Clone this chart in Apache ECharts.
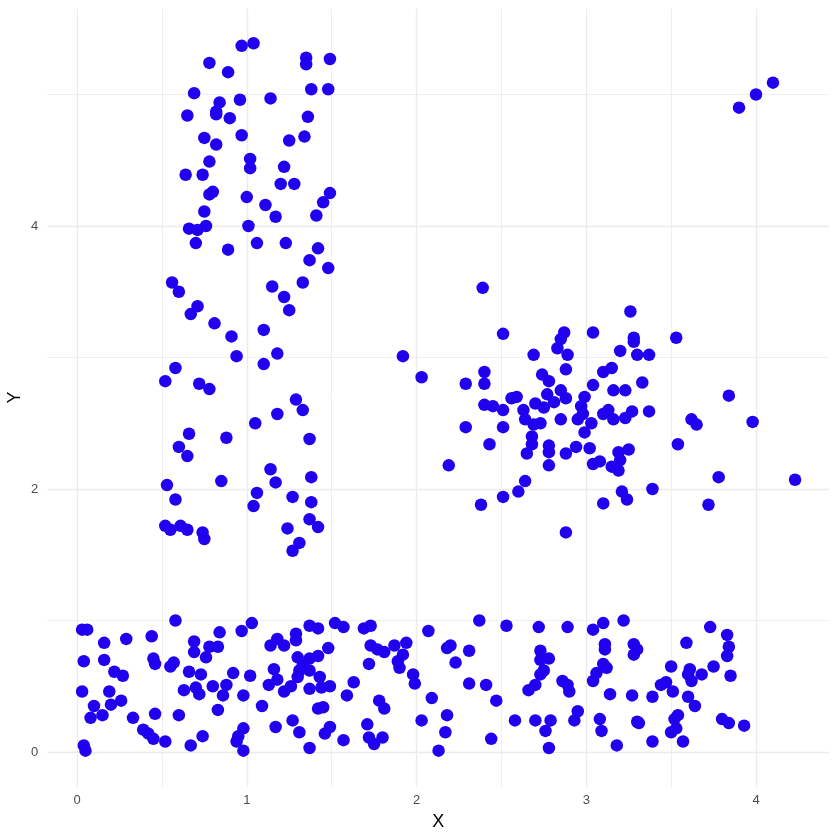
<!DOCTYPE html>
<html>
<head>
<meta charset="utf-8">
<script src="https://cdn.jsdelivr.net/npm/echarts@6/dist/echarts.min.js"></script>
<style>
html,body{margin:0;padding:0;background:#fff;}
#chart{width:840px;height:840px;}
</style>
</head>
<body>
<div id="chart"></div>
<script>
// ---- data ----
const leftCluster = [
[0.97,5.37],[1.04,5.39],[1.35,5.28],[1.35,5.23],[1.49,5.27],[0.78,5.24],[0.89,5.17],[0.69,5.01],[0.84,4.94],[0.96,4.96],
[1.14,4.97],[1.38,5.04],[1.48,5.04],[0.65,4.84],[0.82,4.87],[0.82,4.85],[0.90,4.82],[1.36,4.83],[0.75,4.67],[0.82,4.62],
[0.97,4.69],[1.25,4.65],[1.34,4.68],[0.78,4.49],[1.02,4.51],[1.02,4.44],[1.22,4.45],[0.64,4.39],[0.74,4.39],[1.20,4.32],
[1.28,4.32],[0.80,4.26],[0.78,4.24],[1.00,4.22],[1.11,4.16],[1.17,4.07],[1.49,4.25],[1.45,4.18],[1.41,4.08],[0.75,4.11],
[0.66,3.98],[0.71,3.97],[0.76,4.00],[0.70,3.87],[1.01,4.00],[1.06,3.87],[1.23,3.87],[0.89,3.82],[1.42,3.83],[1.37,3.74],
[1.48,3.68],
[0.56,3.57],[0.60,3.50],[1.15,3.54],[1.33,3.57],[1.22,3.46],[1.25,3.36],[0.71,3.39],[0.67,3.33],[0.81,3.26],[0.91,3.16],
[1.10,3.21],[0.94,3.01],[1.18,3.03],[1.10,2.95],[0.58,2.92],[0.52,2.82],[0.72,2.80],[0.78,2.76],[1.29,2.68],[1.33,2.60],
[1.18,2.57],[1.05,2.50],[0.66,2.42],[0.60,2.32],[0.65,2.25],[0.88,2.39],[1.37,2.38],[1.14,2.15],[1.17,2.05],[1.38,2.09],
[0.85,2.06],[0.53,2.03],[0.58,1.92],[1.06,1.97],[1.04,1.87],[1.27,1.94],[1.38,1.90],[1.37,1.77],[1.42,1.71],[1.24,1.70],
[1.31,1.59],[1.27,1.53],[0.52,1.72],[0.55,1.69],[0.61,1.72],[0.65,1.69],[0.74,1.67],[0.75,1.62]
];
const rightCluster = [
[2.39,3.53],[2.51,3.18],[1.92,3.01],[2.03,2.85],[2.69,3.02],[2.87,3.19],[2.85,3.14],[2.83,3.07],[2.89,3.02],[3.04,3.19],
[2.88,2.91],[2.40,2.89],[2.40,2.80],[2.29,2.80],[2.74,2.87],[2.78,2.82],[3.04,2.79],[2.85,2.75],[2.88,2.69],[2.77,2.72],
[2.59,2.70],[2.56,2.69],[2.70,2.65],[2.75,2.62],[2.81,2.66],[2.40,2.64],[2.45,2.63],[2.51,2.60],[2.63,2.60],[2.64,2.53],
[2.69,2.49],[2.73,2.50],[2.85,2.53],[2.99,2.70],[2.97,2.63],[2.98,2.57],[2.95,2.53],[3.03,2.50],[2.99,2.43],[2.29,2.47],
[2.51,2.47],[2.68,2.40],[2.68,2.34],[2.65,2.27],[2.43,2.34],[2.78,2.33],[2.78,2.28],[2.78,2.18],[2.88,2.27],[2.94,2.32],
[3.02,2.31],[3.04,2.19],[2.19,2.18],[2.64,2.06],[2.60,1.98],[2.51,1.94],[2.38,1.88],[2.88,1.67],
[3.26,3.35],[3.28,3.15],[3.28,3.12],[3.20,3.05],[3.30,3.02],[3.37,3.02],[3.53,3.15],[3.15,2.92],[3.10,2.89],[3.16,2.75],
[3.23,2.75],[3.33,2.81],[3.84,2.71],[3.13,2.60],[3.10,2.57],[3.16,2.53],[3.23,2.54],[3.27,2.59],[3.37,2.59],[3.62,2.53],
[3.65,2.49],[3.98,2.51],[3.54,2.34],[3.19,2.28],[3.25,2.30],[3.20,2.22],[3.08,2.21],[3.15,2.17],[3.19,2.14],[3.78,2.09],
[4.23,2.07],[3.39,2.00],[3.21,1.98],[3.24,1.92],[3.10,1.89],[3.72,1.88]
];
const cornerPoints = [[3.90,4.90],[4.00,5.00],[4.10,5.09]];
const bottomBand = [
[0.03,0.93],[0.06,0.93],[0.16,0.83],[0.29,0.86],[0.44,0.88],[0.58,1.00],[0.69,0.84],[0.69,0.76],[0.78,0.80],[0.83,0.80],
[0.76,0.72],[0.84,0.91],[0.97,0.92],[1.03,0.98],[0.04,0.69],[0.16,0.70],[0.45,0.71],[0.46,0.67],[0.57,0.68],[0.55,0.65],
[0.22,0.61],[0.27,0.58],[0.66,0.61],[0.73,0.59],[0.92,0.60],[1.02,0.58],[0.03,0.46],[0.19,0.46],[0.63,0.47],[0.70,0.49],
[0.72,0.44],[0.80,0.50],[0.88,0.51],[0.86,0.43],[0.98,0.43],[0.10,0.35],[0.20,0.36],[0.26,0.39],[0.08,0.26],[0.15,0.28],
[0.33,0.26],[0.46,0.29],[0.60,0.28],[0.83,0.32],[0.39,0.17],[0.42,0.14],[0.45,0.10],[0.52,0.08],[0.67,0.05],[0.74,0.12],
[0.98,0.18],[0.95,0.12],[0.94,0.08],[0.98,0.01],[0.04,0.05],[0.05,0.01],
[1.09,0.35],[1.14,0.81],[1.18,0.86],[1.22,0.81],[1.29,0.90],[1.29,0.85],[1.37,0.96],[1.42,0.94],[1.52,0.98],[1.57,0.95],
[1.69,0.94],[1.73,0.96],[1.48,0.79],[1.30,0.72],[1.37,0.71],[1.42,0.73],[1.33,0.66],[1.31,0.62],[1.37,0.62],[1.16,0.63],
[1.18,0.55],[1.13,0.51],[1.30,0.57],[1.26,0.50],[1.22,0.46],[1.37,0.48],[1.43,0.57],[1.44,0.49],[1.49,0.50],[1.63,0.53],
[1.59,0.43],[1.42,0.33],[1.45,0.34],[1.27,0.24],[1.17,0.19],[1.31,0.15],[1.37,0.03],[1.46,0.14],[1.49,0.19],[1.57,0.09],
[1.73,0.81],[1.77,0.78],[1.81,0.76],[1.87,0.81],[1.94,0.83],[1.92,0.74],[1.89,0.69],[1.90,0.64],[1.72,0.67],[1.98,0.59],
[1.99,0.52],[1.78,0.39],[1.81,0.33],[1.71,0.21],[1.72,0.11],[1.75,0.06],[1.80,0.11],[2.07,0.92],[2.18,0.79],[2.20,0.81],
[2.23,0.68],[2.09,0.41],[2.03,0.24],[2.18,0.28],[2.17,0.15],[2.13,0.01],
[2.37,1.00],[2.53,0.96],[2.72,0.95],[2.89,0.95],[3.04,0.93],[3.10,0.98],[3.22,1.00],[2.31,0.77],[2.31,0.52],[2.41,0.51],
[2.47,0.39],[2.44,0.10],[2.58,0.24],[2.70,0.24],[2.79,0.24],[2.76,0.16],[2.78,0.03],[2.73,0.77],[2.73,0.70],[2.78,0.71],
[2.75,0.62],[2.73,0.59],[2.70,0.51],[2.66,0.47],[2.86,0.54],[2.89,0.51],[2.90,0.46],[2.95,0.31],[2.93,0.24],[3.11,0.82],
[3.11,0.78],[3.10,0.67],[3.12,0.64],[3.06,0.60],[3.04,0.54],[3.14,0.44],[3.27,0.43],[3.08,0.25],[3.09,0.16],[3.18,0.05],
[3.28,0.82],[3.30,0.78],[3.28,0.74],[3.30,0.23],[3.31,0.22],
[3.39,0.08],[3.39,0.42],[3.73,0.95],[3.59,0.83],[3.83,0.89],[3.84,0.80],[3.83,0.73],[3.50,0.65],[3.61,0.63],[3.60,0.59],
[3.62,0.54],[3.68,0.59],[3.75,0.65],[3.85,0.58],[3.44,0.51],[3.47,0.53],[3.51,0.46],[3.60,0.42],[3.64,0.35],[3.54,0.28],
[3.52,0.25],[3.53,0.18],[3.50,0.15],[3.57,0.08],[3.80,0.25],[3.84,0.22],[3.93,0.20]
];
const xTickLabels = [0, 1, 2, 3, 4];
const xMinorBreaks = [0.5, 1.5, 2.5, 3.5];
const yTickLabels = [0, 2, 4];
const yMinorBreaks = [1, 3, 5];
const xRange = [-0.175, 4.43];
const yRange = [-0.264, 5.654];

const allPoints = leftCluster.concat(rightCluster, cornerPoints, bottomBand);

const FONT = '"Liberation Sans", Arial, Helvetica, sans-serif';
const GRID_COLOR = '#ebebeb';

const gridLines = [];
xTickLabels.forEach(v => gridLines.push({ xAxis: v, lineStyle: { width: 1.3 } }));
xMinorBreaks.forEach(v => gridLines.push({ xAxis: v, lineStyle: { width: 0.8 } }));
yTickLabels.forEach(v => gridLines.push({ yAxis: v, lineStyle: { width: 1.3 } }));
yMinorBreaks.forEach(v => gridLines.push({ yAxis: v, lineStyle: { width: 0.8 } }));

const chart = echarts.init(document.getElementById('chart'), null, { renderer: 'canvas' });
chart.setOption({
  animation: false,
  backgroundColor: '#ffffff',
  grid: { left: 47.3, right: 11, top: 8.5, bottom: 53.3, containLabel: false, outerBoundsMode: 'none' },
  xAxis: {
    type: 'value',
    min: xRange[0], max: xRange[1],
    name: 'X', nameLocation: 'middle', nameGap: 26, nameMoveOverlap: false,
    nameTextStyle: { color: '#000000', fontSize: 18, fontFamily: FONT },
    axisLine: { show: false }, axisTick: { show: false }, splitLine: { show: false },
    axisLabel: {
      color: '#4d4d4d', fontSize: 13, fontFamily: FONT, margin: 7,
      showMinLabel: false, showMaxLabel: false,
      formatter: v => (xTickLabels.indexOf(Math.round(v * 1000) / 1000) >= 0 ? String(Math.round(v)) : '')
    }
  },
  yAxis: {
    type: 'value',
    min: yRange[0], max: yRange[1],
    name: 'Y', nameLocation: 'middle', nameGap: 23, nameRotate: 90, nameMoveOverlap: false,
    nameTextStyle: { color: '#000000', fontSize: 18, fontFamily: FONT },
    axisLine: { show: false }, axisTick: { show: false }, splitLine: { show: false },
    axisLabel: {
      color: '#4d4d4d', fontSize: 13, fontFamily: FONT, margin: 9,
      showMinLabel: false, showMaxLabel: false,
      formatter: v => (yTickLabels.indexOf(Math.round(v * 1000) / 1000) >= 0 ? String(Math.round(v)) : '')
    }
  },
  series: [
    {
      name: 'grid', type: 'scatter', data: [], z: 1, silent: true,
      markLine: {
        silent: true, symbol: ['none', 'none'], animation: false,
        label: { show: false },
        lineStyle: { color: GRID_COLOR, type: 'solid', width: 1 },
        emphasis: { disabled: true },
        data: gridLines
      }
    },
    {
      name: 'points', type: 'scatter', z: 5,
      symbol: 'circle', symbolSize: 12.5,
      itemStyle: { color: '#2000ee', opacity: 1 },
      data: allPoints
    }
  ]
});
</script>
</body>
</html>
